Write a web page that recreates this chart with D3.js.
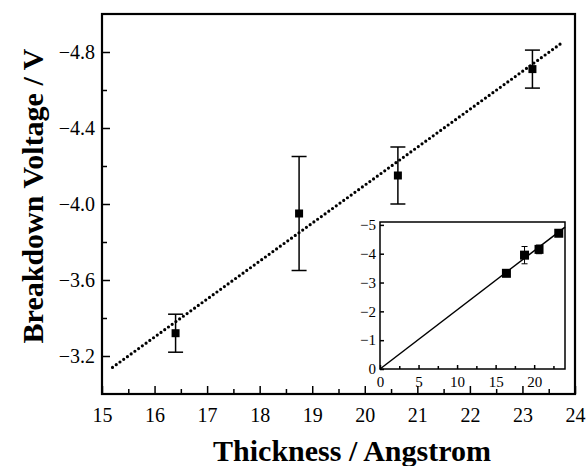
<!DOCTYPE html>
<html><head><meta charset="utf-8">
<script src="https://cdn.jsdelivr.net/npm/d3@7"></script>
<style>
html,body{margin:0;padding:0;background:#fff;}
svg{display:block;}
</style></head>
<body>
<svg id="chart" width="587" height="466"></svg>
<script>
// ---- data ----
const thickness = [16.4, 18.75, 20.63, 23.19];
const voltage   = [-3.32, -3.95, -4.15, -4.71];
const errors    = [0.10, 0.30, 0.15, 0.10];
const fitX = [15.2, 23.76];
const fitY = [-3.14, -4.85];
const xTicks = [15,16,17,18,19,20,21,22,23,24];
const yTicks = [-3.2,-3.6,-4.0,-4.4,-4.8];
const insetXTicks = [0,5,10,15,20];
const insetYTicks = [0,-1,-2,-3,-4,-5];
const insetLineX = [0, 24];
const insetLineY = [0, -4.92];
const xLabel = "Thickness / Angstrom";
const yLabel = "Breakdown Voltage / V";

const FONT = "'Liberation Serif'";
const svg = d3.select("#chart").style("font-family", FONT);

// ---- main plot ----
const L=102, R=575, T=14, B=394;
const x = d3.scaleLinear().domain([15,24]).range([L,R]);
const y = d3.scaleLinear().domain([-3,-5]).range([B,T]);

function styleAxis(g, size){
  g.attr("font-family", null).style("font-family", FONT);
  g.select(".domain").remove();
  g.selectAll("line").attr("stroke-width",1.5);
  g.selectAll("text").style("font-family", FONT).style("font-size", size).attr("fill","#000");
}

const xMinor = d3.range(15.5,24,1);
const yMinor = [-3.4,-3.8,-4.2,-4.6];
svg.append("g").attr("transform",`translate(0,${B})`)
  .call(d3.axisBottom(x).tickValues(xMinor).tickSize(-5).tickFormat(""))
  .call(g=>styleAxis(g,"20px"));
svg.append("g").attr("transform",`translate(${L},0)`)
  .call(d3.axisLeft(y).tickValues(yMinor).tickSize(-5).tickFormat(""))
  .call(g=>styleAxis(g,"20px"));

svg.append("g").attr("transform",`translate(0,${B})`)
  .call(d3.axisBottom(x).tickValues(xTicks).tickSize(-8).tickPadding(14).tickFormat(d3.format("d")))
  .call(g=>styleAxis(g,"20px"));
svg.append("g").attr("transform",`translate(${L},0)`)
  .call(d3.axisLeft(y).tickValues(yTicks).tickSize(-8).tickPadding(7).tickFormat(d3.format(".1f")))
  .call(g=>styleAxis(g,"20px"));

svg.append("rect").attr("x",L).attr("y",T).attr("width",R-L).attr("height",B-T)
  .attr("fill","none").attr("stroke","#000").attr("stroke-width",2.2);

svg.append("line")
  .attr("x1",x(fitX[0])).attr("y1",y(fitY[0]))
  .attr("x2",x(fitX[1])).attr("y2",y(fitY[1]))
  .attr("stroke","#000").attr("stroke-width",3.2)
  .attr("stroke-linecap","round").attr("stroke-dasharray","0,4.6");

const pts = thickness.map((t,i)=>({x:t,y:voltage[i],e:errors[i]}));
const eb = svg.append("g").attr("stroke","#000").attr("stroke-width",1.5);
pts.forEach(p=>{
  eb.append("line").attr("x1",x(p.x)).attr("x2",x(p.x)).attr("y1",y(p.y-p.e)).attr("y2",y(p.y+p.e));
  eb.append("line").attr("x1",x(p.x)-7.5).attr("x2",x(p.x)+7.5).attr("y1",y(p.y-p.e)).attr("y2",y(p.y-p.e));
  eb.append("line").attr("x1",x(p.x)-7.5).attr("x2",x(p.x)+7.5).attr("y1",y(p.y+p.e)).attr("y2",y(p.y+p.e));
});
svg.append("g").selectAll("rect").data(pts).join("rect")
  .attr("x",d=>x(d.x)-4).attr("y",d=>y(d.y)-4).attr("width",8).attr("height",8).attr("fill","#000");

svg.append("text").attr("x",352).attr("y",461).attr("text-anchor","middle")
  .style("font-family",FONT).style("font-size","30px").style("font-weight","bold").text(xLabel);
svg.append("text").attr("transform","translate(43,196) rotate(-90)").attr("text-anchor","middle")
  .style("font-family",FONT).style("font-size","30px").style("font-weight","bold").text(yLabel);

// ---- inset ----
const iL=380, iR=565, iT=222, iB=369;
const ix = d3.scaleLinear().domain([0,24]).range([iL,iR]);
const iy = d3.scaleLinear().domain([0,-5.1]).range([iB,iT]);
svg.append("rect").attr("x",iL).attr("y",iT).attr("width",iR-iL).attr("height",iB-iT).attr("fill","#fff");

svg.append("g").attr("transform",`translate(0,${iB})`)
  .call(d3.axisBottom(ix).tickValues(d3.range(2.5,24,5)).tickSize(-3).tickFormat(""))
  .call(g=>styleAxis(g,"15px"));
svg.append("g").attr("transform",`translate(0,${iB})`)
  .call(d3.axisBottom(ix).tickValues(insetXTicks).tickSize(-4).tickPadding(7).tickFormat(d3.format("d")))
  .call(g=>styleAxis(g,"15px"));
svg.append("g").attr("transform",`translate(${iL},0)`)
  .call(d3.axisLeft(iy).tickValues(insetYTicks).tickSize(-4).tickPadding(4).tickFormat(d3.format("d")))
  .call(g=>styleAxis(g,"15px"));

svg.append("rect").attr("x",iL).attr("y",iT).attr("width",iR-iL).attr("height",iB-iT)
  .attr("fill","none").attr("stroke","#000").attr("stroke-width",1.5);

svg.append("line")
  .attr("x1",ix(insetLineX[0])).attr("y1",iy(insetLineY[0]))
  .attr("x2",ix(insetLineX[1])).attr("y2",iy(insetLineY[1]))
  .attr("stroke","#000").attr("stroke-width",1.5);

const ieb = svg.append("g").attr("stroke","#000").attr("stroke-width",1);
pts.forEach(p=>{
  ieb.append("line").attr("x1",ix(p.x)).attr("x2",ix(p.x)).attr("y1",iy(p.y-p.e)).attr("y2",iy(p.y+p.e));
  ieb.append("line").attr("x1",ix(p.x)-3).attr("x2",ix(p.x)+3).attr("y1",iy(p.y-p.e)).attr("y2",iy(p.y-p.e));
  ieb.append("line").attr("x1",ix(p.x)-3).attr("x2",ix(p.x)+3).attr("y1",iy(p.y+p.e)).attr("y2",iy(p.y+p.e));
});
svg.append("g").selectAll("rect").data(pts).join("rect")
  .attr("x",d=>ix(d.x)-4.5).attr("y",d=>iy(d.y)-4.5).attr("width",9).attr("height",9).attr("fill","#000");
</script>
</body></html>
